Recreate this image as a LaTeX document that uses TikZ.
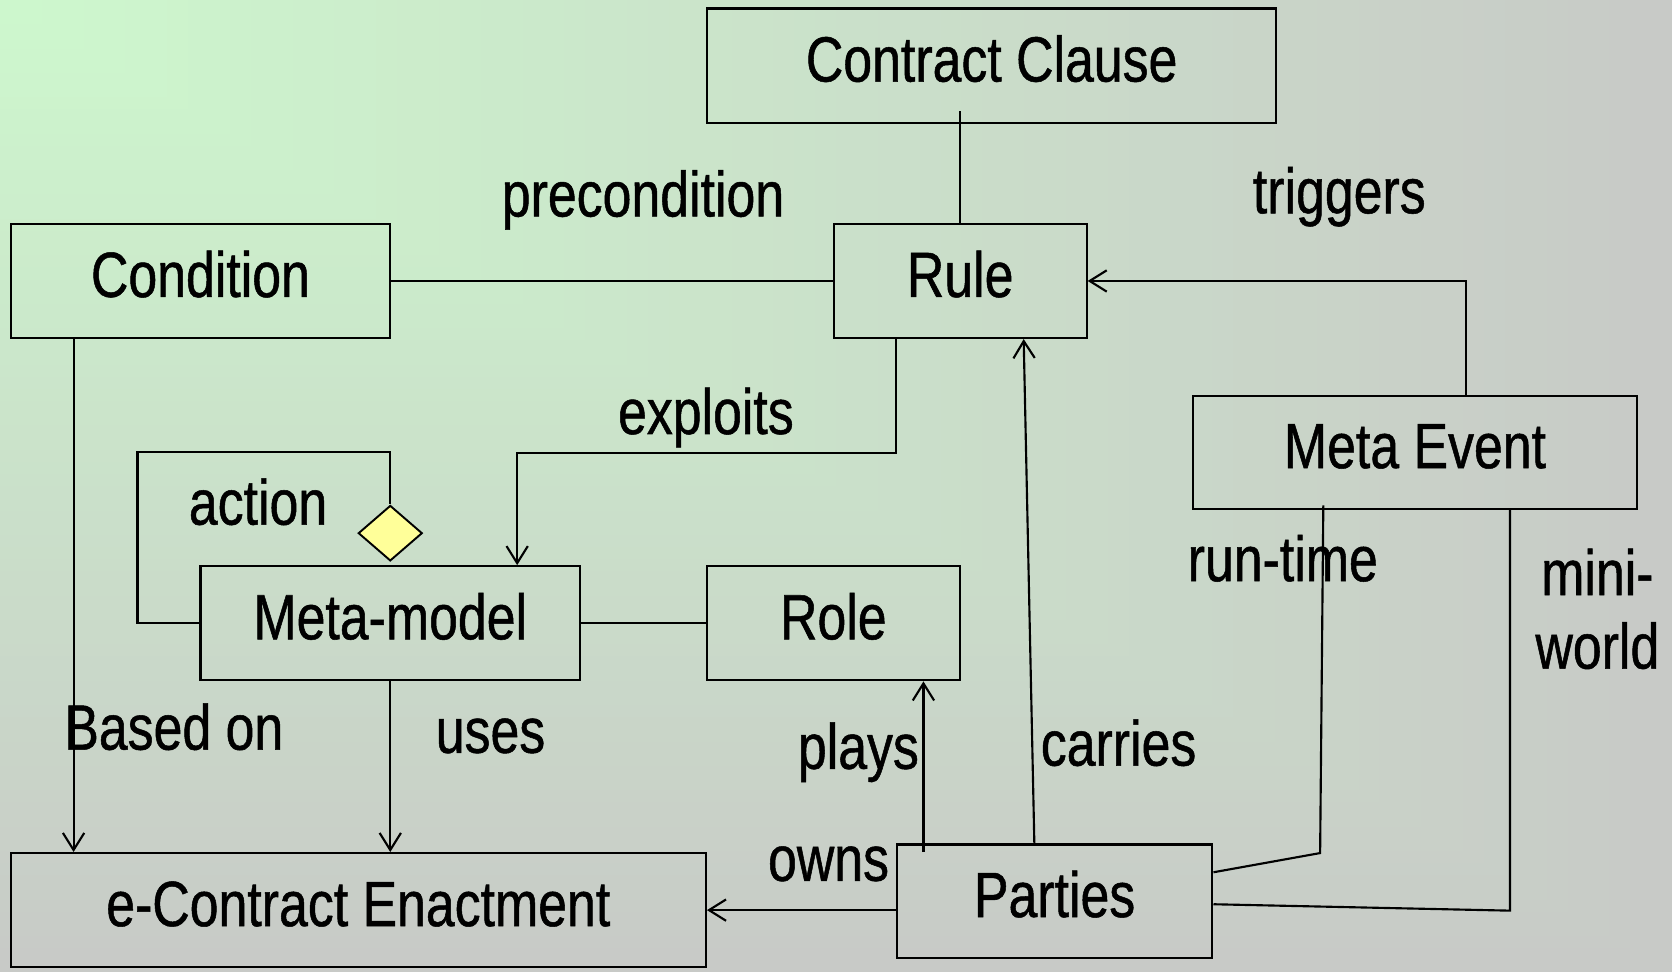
\documentclass[tikz,border=0pt]{standalone}
\usepackage{fontspec}
\setmainfont{Liberation Sans}[FakeStretch=0.81,FakeBold=0.8]
\usetikzlibrary{arrows.meta,shapes.geometric,calc}
\definecolor{bgA}{RGB}{205,248,205}
\definecolor{bgB}{RGB}{200,202,199}
\definecolor{diafill}{RGB}{255,255,153}
\newcommand{\dgfont}{\fontsize{60}{66}\selectfont}
\begin{document}
\begin{tikzpicture}[x=1pt,y=-1pt,
  box/.style={draw,line width=2pt,rectangle,inner sep=0pt,text height=45pt,text depth=15pt,font=\dgfont},
  lbl/.style={inner sep=0pt,font=\dgfont,anchor=base},
  conn/.style={line width=2pt},
  arr/.style={conn,-{Straight Barb[length=16pt,width=20pt]}},
  dia/.style={draw,line width=1.8pt,diamond,fill=diafill,minimum width=60pt,minimum height=52pt,inner sep=0pt}]
% background: rectangular gradient from the top-left corner
\foreach \i in {80,79,...,1}{
  \pgfmathsetmacro\p{min(100,1.25*\i)}
  \fill[bgB!\p!bgA] (0,0) rectangle ({19.6*\i},{11.4*\i});
}
\useasboundingbox (0,0) rectangle (1568,912);

% boxes
\node[box,minimum width=534pt,minimum height=107pt] (cc) at (930,61.5) {Contract Clause};
\node[box,minimum width=237pt,minimum height=107pt] (rule) at (900.5,263.5) {Rule};
\node[box,minimum width=356pt,minimum height=107pt] (cond) at (188,263.5) {Condition};
\node[box,minimum width=416pt,minimum height=106pt] (mev) at (1327,424) {Meta Event};
\node[box,minimum width=356pt,minimum height=107pt] (mm) at (366,584.5) {Meta-model};
\node[box,minimum width=237pt,minimum height=107pt] (role) at (781.5,584.5) {Role};
\node[box,minimum width=652pt,minimum height=107pt] (ece) at (336,853.5) {e-Contract Enactment};
\node[box,minimum width=296pt,minimum height=106pt] (par) at (989,845) {Parties};
\node[dia] (dm) at (366,500) {};

% labels
\node[lbl] (lpre) at (603,203) {precondition};
\node[lbl] (ltrig) at (1256,200) {triggers};
\node[lbl] (lexp) at (662,407) {exploits};
\node[lbl] (lact) at (242,492) {action};
\node[lbl] (lbased) at (163,703) {Based on};
\node[lbl] (luses) at (460,706) {uses};
\node[lbl] (lplays) at (805,721) {plays};
\node[lbl] (lcarr) at (1049,718) {carries};
\node[lbl] (lowns) at (777,826) {owns};
\node[lbl] (lrun) at (1203,545) {run-time};
\node[lbl] (lmini) at (1498,558) {mini-};
\node[lbl] (lworld) at (1498,627) {world};

% connectors
\draw[conn] (rule.north) -- ([yshift=12pt]cc.south -| rule.north);
\draw[conn] (cond.east) -- (rule.west);
\draw[arr] ([xshift=48pt]mev.north) |- (rule.east);
\draw[arr] ([xshift=-60.5pt]rule.south) -- ++(0,107) -| ([xshift=119pt]mm.north);
\draw[conn] (mm.west) -| (129,424) -| (dm.north);
\draw[conn] (mm.east) -- (role.west);
\draw[arr] ([xshift=-119pt]cond.south) -- ([xshift=-119pt]cond.south |- ece.north);
\draw[arr] (mm.south) -- (mm.south |- ece.north);
\draw[arr] (ece.east -| par.west) -- (ece.east);
\draw[arr] ($([xshift=84.5pt]role.south |- par.north)+(0,8)$) -- ([xshift=84.5pt]role.south);
\draw[arr] ([xshift=-19pt]par.north) -- ([xshift=59.5pt]rule.south);
\draw[conn] ([xshift=-86pt,yshift=4pt]mev.south) -- (1238,800) -- ([yshift=27pt]par.east);
\draw[conn] ([xshift=89pt]mev.south) -- (1416,854) -- ([yshift=-3pt]par.east);
\end{tikzpicture}
\end{document}
